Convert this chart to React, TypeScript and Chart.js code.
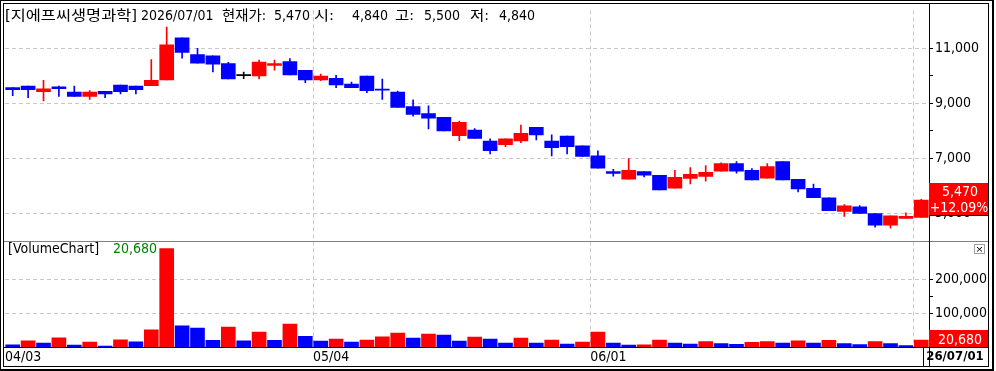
import React, { useEffect, useRef } from 'react';
import { Chart, registerables } from 'chart.js';

Chart.register(...registerables);

const stockName = '지에프씨생명과학';
const currentDate = '2026/07/01';
const boxDate = '26/07/01';

const dates = [
  '04/03', '04/06', '04/07', '04/08', '04/09', '04/10', '04/13', '04/14', '04/15', '04/16',
  '04/17', '04/20', '04/21', '04/22', '04/23', '04/24', '04/27', '04/28', '04/29', '04/30',
  '05/04', '05/06', '05/07', '05/08', '05/11', '05/12', '05/13', '05/14', '05/15', '05/18',
  '05/19', '05/20', '05/21', '05/22', '05/26', '05/27', '05/28', '05/29', '06/01', '06/02',
  '06/04', '06/05', '06/08', '06/09', '06/10', '06/11', '06/12', '06/15', '06/16', '06/17',
  '06/18', '06/19', '06/22', '06/23', '06/24', '06/25', '06/26', '06/29', '06/30', '07/01',
];

const opens = [
  9560, 9620, 9410, 9590, 9400, 9240, 9430, 9650, 9620, 9630,
  9840, 11370, 10760, 10720, 10440, 10000, 9990, 10370, 10510, 10190,
  9840, 9900, 9690, 9980, 9480, 9400, 8870, 8620, 8480, 7810,
  8020, 7620, 7490, 7620, 8120, 7620, 7800, 7440, 7080, 6510,
  6230, 6510, 6370, 5900, 6260, 6330, 6520, 6800, 6550, 6270,
  6870, 6230, 5900, 5550, 5060, 5230, 4980, 4560, 4800, 4840,
];
const highs = [
  9560, 9620, 9830, 9620, 9620, 9450, 9430, 9650, 9620, 10580,
  11760, 11370, 10990, 10720, 10480, 10130, 10560, 10560, 10620, 10190,
  10050, 10010, 9760, 9980, 9870, 9440, 9120, 8900, 8480, 8340,
  8070, 7700, 7700, 8200, 8120, 7840, 7800, 7440, 7260, 6590,
  6980, 6510, 6370, 6550, 6650, 6730, 6830, 6870, 6620, 6800,
  6870, 6230, 6050, 5550, 5310, 5270, 4980, 4900, 5010, 5500,
];
const lows = [
  9270, 9200, 9080, 9240, 9240, 9130, 9200, 9330, 9330, 9630,
  9840, 10630, 10450, 10130, 9880, 9890, 9880, 10200, 10020, 9740,
  9810, 9560, 9560, 9380, 9130, 8840, 8520, 8060, 7990, 7630,
  7710, 7150, 7410, 7560, 7660, 7080, 7150, 7060, 6630, 6340,
  6230, 6310, 5840, 5900, 6060, 6160, 6520, 6450, 6200, 6270,
  6200, 5770, 5560, 5090, 4880, 4990, 4490, 4450, 4800, 4840,
];
const closes = [
  9490, 9490, 9520, 9520, 9240, 9400, 9330, 9410, 9490, 9830,
  11120, 10840, 10450, 10410, 9880, 10000, 10490, 10440, 10020, 9840,
  9980, 9660, 9560, 9450, 9470, 8840, 8590, 8450, 7990, 8300,
  7710, 7270, 7700, 7900, 7840, 7380, 7410, 7060, 6630, 6440,
  6550, 6380, 5840, 6300, 6410, 6480, 6800, 6520, 6200, 6690,
  6200, 5880, 5560, 5090, 5260, 4990, 4560, 4900, 4880, 5470,
];
const volumes = [
  6800, 18500, 11800, 27400, 5900, 14700, 2900, 21500, 15600, 50900,
  292000, 62600, 56000, 20000, 59000, 18000, 44000, 20000, 68000, 32000,
  17600, 23500, 14700, 20600, 30300, 41200, 26500, 38200, 35300, 17600,
  29400, 23500, 11800, 26500, 11800, 20600, 8800, 14700, 44100, 11800,
  5500, 6500, 20600, 11800, 9000, 16000, 10000, 8000, 14000, 16000,
  12000, 18000, 12000, 20000, 10000, 7000, 16000, 10000, 4000, 20680,
];

const priceTicks = [5000, 6000, 7000, 8000, 9000, 10000, 11000];
const priceTickLabels = [5000, 7000, 9000, 11000];
const volumeTicks = [50000, 100000, 150000, 200000];
const volumeTickLabels = [100000, 200000];
const dateLabelIndexes = [0, 20, 38];
const dateGridIndexes = [20, 38, 59];

const RED = '#ff0000';
const BLUE = '#0000ff';
const FONT = '"DejaVu Sans Condensed", "Noto Sans CJK KR", sans-serif';
const GRID = '#c8c8c8';

const fmt = (v: number) => v.toLocaleString('en-US');

const candleColors = opens.map((o, i) =>
  closes[i] > o ? RED : closes[i] < o ? BLUE : '#000000'
);
const volumeColors = volumes.map((v, i) =>
  i > 0 && v >= volumes[i - 1] ? RED : BLUE
);

const overlay = {
  id: 'overlay',
  afterDraw(chart: any) {
    const ctx: CanvasRenderingContext2D = chart.ctx;
    const ca = chart.chartArea;
    const yP = chart.scales.y;
    const yV = chart.scales.yv;
    const n = closes.length;
    const last = closes[n - 1];
    const prev = closes[n - 2];
    const pct = ((last - prev) / prev) * 100;
    const axL = Math.round(ca.right);
    const axR = 988;

    ctx.save();
    const fill = (x: number, y: number, w: number, h: number, c: string) => {
      ctx.fillStyle = c;
      ctx.fillRect(x, y, w, h);
    };
    // text stretched horizontally to a given width (wide Korean system font look)
    const wide = (t: string, x: number, y: number, w: number) => {
      const m = ctx.measureText(t).width;
      ctx.save();
      ctx.translate(x, y);
      ctx.scale(w / m, 1);
      ctx.fillText(t, 0, 0);
      ctx.restore();
    };

    // panel separator
    const sep = Math.round(yP.bottom);
    fill(3, sep, axR - 3, 1, '#808080');
    // right axis line
    fill(axL, 3, 1, 364, '#000');
    // x axis line
    fill(3, Math.round(ca.bottom), axR - 3, 1, '#000');

    // frames
    fill(0, 0, 994, 1, '#000');
    fill(0, 0, 1, 371, '#000');
    fill(3, 3, axR - 3, 1, '#000');
    fill(3, 3, 1, 364, '#000');
    fill(axR, 3, 1, 364, '#000');
    fill(3, 366, axR - 2, 1, '#000');
    fill(992, 0, 2, 371, '#000');
    fill(0, 369, 994, 2, '#000');

    ctx.textBaseline = 'middle';

    // header
    ctx.font = `14px ${FONT}`;
    ctx.textAlign = 'left';
    ctx.fillStyle = '#000';
    wide(`[${stockName}]`, 5, 16, 132);
    ctx.fillText(currentDate, 141, 16);
    wide('현재가:', 222, 16, 44);
    ctx.fillText(fmt(last), 274, 16);
    wide('시:', 314, 16, 20);
    ctx.fillText(fmt(opens[n - 1]), 352, 16);
    wide('고:', 395, 16, 19);
    ctx.fillText(fmt(highs[n - 1]), 424, 16);
    wide('저:', 470, 16, 19);
    ctx.fillText(fmt(lows[n - 1]), 499, 16);

    // volume title
    ctx.fillText('[VolumeChart]', 8, sep + 8);
    ctx.fillStyle = '#008000';
    ctx.fillText(fmt(volumes[n - 1]), 113, sep + 8);

    // close button
    fill(974, sep + 3, 11, 10, '#fff');
    ctx.strokeStyle = '#a0a0a0';
    ctx.lineWidth = 1;
    ctx.strokeRect(974.5, sep + 3.5, 10, 9);
    ctx.strokeStyle = '#000';
    ctx.beginPath();
    ctx.moveTo(977, sep + 6);
    ctx.lineTo(982, sep + 10.5);
    ctx.moveTo(982, sep + 6);
    ctx.lineTo(977, sep + 10.5);
    ctx.stroke();

    // current price box
    const py = yP.getPixelForValue(last);
    const bTop = Math.round(py - 17);
    fill(axL, bTop, axR - axL, 32, RED);
    fill(axL, bTop + 32, axR - axL, 1, '#000');
    ctx.fillStyle = '#fff';
    ctx.textAlign = 'center';
    ctx.fillText(fmt(last), 960, bTop + 9);
    ctx.fillText(`+${pct.toFixed(2)}%`, 959, bTop + 25);

    // volume box
    const vy = yV.getPixelForValue(volumes[n - 1]);
    const vTop = Math.round(vy - 10);
    fill(axL, vTop, axR - axL, Math.round(ca.bottom) - vTop, RED);
    ctx.fillStyle = '#fff';
    ctx.fillText(fmt(volumes[n - 1]), 960, vTop + 10);

    // date box
    const b = Math.round(ca.bottom);
    fill(923, b, 1, 366 - b, '#000');
    ctx.fillStyle = '#000';
    ctx.font = `bold 13px ${FONT}`;
    ctx.fillText(boxDate, 955, b + 10);

    ctx.restore();
  },
};

export default function App() {
  const ref = useRef<HTMLCanvasElement>(null);
  useEffect(() => {
    const canvas = ref.current!;
    const font = { family: FONT, size: 14 };
    const chart = new Chart(canvas, {
      type: 'bar',
      data: {
        labels: dates,
        datasets: [
          {
            label: 'wick',
            data: lows.map((l, i) => [l, highs[i]]),
            yAxisID: 'y',
            backgroundColor: candleColors,
            barThickness: 1,
            grouped: false,
            order: 2,
          } as any,
          {
            label: 'body',
            data: opens.map((o, i) => [o, closes[i]]),
            yAxisID: 'y',
            backgroundColor: candleColors,
            barThickness: 14,
            minBarLength: 1,
            grouped: false,
            order: 1,
          } as any,
          {
            label: 'volume',
            data: volumes,
            yAxisID: 'yv',
            backgroundColor: volumeColors,
            barThickness: 14,
            grouped: false,
            order: 0,
          } as any,
        ],
      },
      options: {
        responsive: false,
        maintainAspectRatio: false,
        animation: false,
        events: [],
        layout: { padding: { left: 5, top: 4, right: 8, bottom: 4 } },
        plugins: { legend: { display: false }, tooltip: { enabled: false } },
        scales: {
          x: {
            offset: true,
            grid: {
              offset: true,
              drawTicks: false,
              color: (c: any) => (dateGridIndexes.includes(c.index) ? GRID : 'transparent'),
            },
            border: { display: false, dash: [4, 3] },
            ticks: {
              autoSkip: false,
              maxRotation: 0,
              minRotation: 0,
              padding: 2,
              align: 'start',
              labelOffset: -7.7,
              color: '#000',
              font,
              callback: (_v: any, i: number) => (dateLabelIndexes.includes(i) ? dates[i] : ''),
            },
            afterFit: (s: any) => {
              s.height = 20;
            },
          },
          y: {
            position: 'right',
            stack: 'main',
            stackWeight: 234.5,
            min: 4000,
            max: 12370,
            afterBuildTicks: (s: any) => {
              s.ticks = priceTicks.map((v) => ({ value: v }));
            },
            grid: {
              color: (c: any) => (c.tick && priceTickLabels.includes(c.tick.value) ? GRID : 'transparent'),
              tickColor: '#000',
              tickLength: 4,
            },
            border: { display: false, dash: [4, 3] },
            ticks: {
              autoSkip: false,
              padding: 2,
              color: '#000',
              font,
              callback: (v: any) => (priceTickLabels.includes(v) ? fmt(v) : ''),
            },
            afterFit: (s: any) => {
              s.width = 59;
            },
          },
          yv: {
            position: 'right',
            stack: 'main',
            stackWeight: 108.5,
            min: 0,
            max: 316000,
            afterBuildTicks: (s: any) => {
              s.ticks = volumeTicks.map((v) => ({ value: v }));
            },
            grid: {
              color: (c: any) => (c.tick && volumeTickLabels.includes(c.tick.value) ? GRID : 'transparent'),
              tickColor: '#000',
              tickLength: 4,
            },
            border: { display: false, dash: [4, 3] },
            ticks: {
              autoSkip: false,
              padding: 2,
              color: '#000',
              font,
              callback: (v: any) => (volumeTickLabels.includes(v) ? fmt(v) : ''),
            },
            afterFit: (s: any) => {
              s.width = 59;
            },
          },
        },
      } as any,
      plugins: [overlay],
    });
    return () => chart.destroy();
  }, []);

  return (
    <div style={{ position: 'absolute', left: 0, top: 0, width: 996, height: 371, background: '#fff' }}>
      <canvas ref={ref} width={996} height={371} style={{ display: 'block' }} />
    </div>
  );
}
